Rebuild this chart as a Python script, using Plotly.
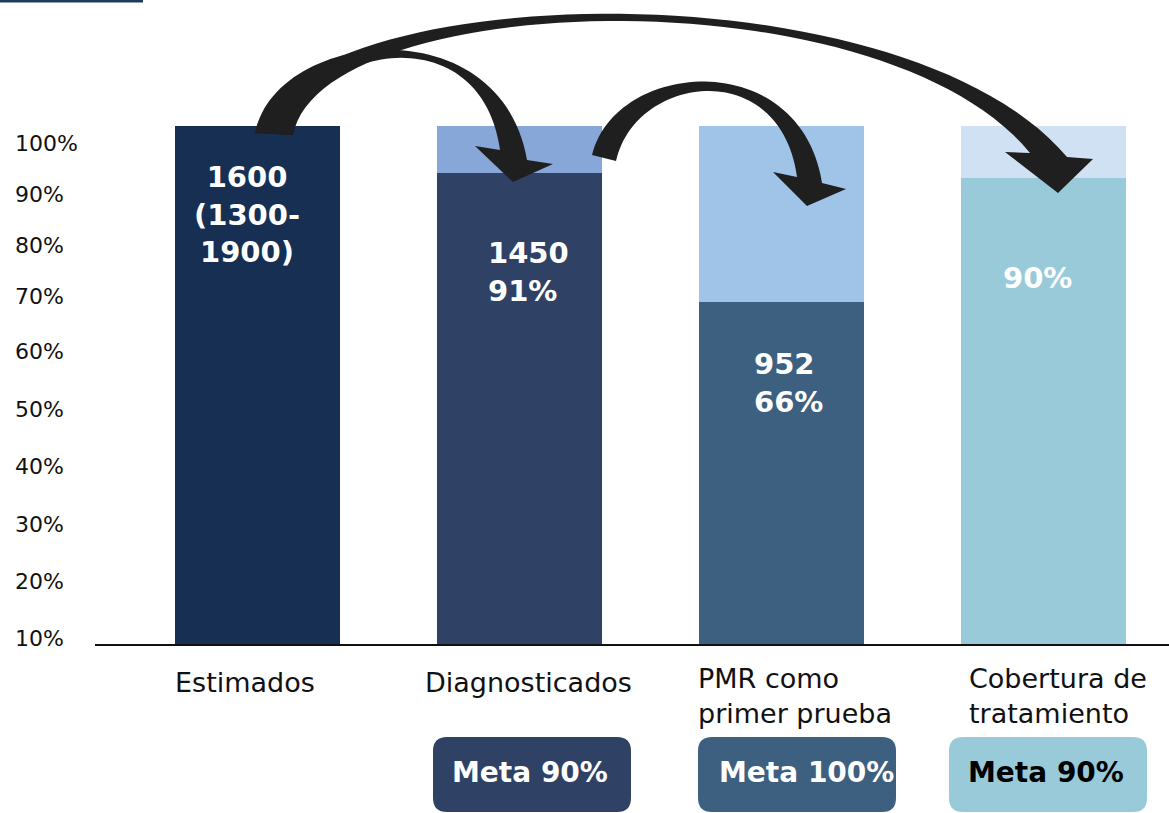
import numpy as np
import plotly.graph_objects as go

W, H = 1169, 813

# ---- data -------------------------------------------------------------
stages = ["Estimados", "Diagnosticados", "PMR como<br>primer prueba", "Cobertura de<br>tratamiento"]
stage_pct = [100, 91, 66, 90]          # achieved share at each stage (%)
stage_full = [100, 100, 100, 100]      # full scale drawn behind each stage (%)
estimated_people = 1600
estimated_low, estimated_high = 1300, 1900
stage_people = [1600, 1450, 952, None]
goal_pct = [None, 90, 100, 90]
y_tick_labels = ["10%", "20%", "30%", "40%", "50%", "60%", "70%", "80%", "90%", "100%"]

# ---- styling / layout constants -----------------------------------------
FONT = "DejaVu Sans"
full_colors = ["#162F52", "#86A7D8", "#A0C4E8", "#CFE1F3"]
pct_colors = ["#162F52", "#2F4265", "#3D6080", "#98CAD9"]
goal_box_colors = ["#2F4265", "#3D6080", "#98CAD9"]
goal_text_colors = ["white", "white", "black"]

y_range = [-32.37, 124.28]
y_tick_pos = [1.35, 12.3, 23.3, 34.5, 45.5, 56.5, 67.1, 77.1, 86.9, 96.7]
x_range = [-0.981, 3.477]
bar_width = 0.629

label_y = [83.0, 71.9, 50.5, 70.7]
label_xshift = [-10, 9, 7, -6]
cat_y = [-7.3, -7.3, -9.8, -9.8]
cat_xshift = [-12, 9, 13, 14]


def px(x):
    return x / W


def py(y):
    return 1 - y / H


def bezier(p0, p1, p2, p3, n=60):
    t = np.linspace(0, 1, n)[:, None]
    p0, p1, p2, p3 = map(np.array, (p0, p1, p2, p3))
    return ((1 - t) ** 3) * p0 + 3 * t * (1 - t) ** 2 * p1 + 3 * t ** 2 * (1 - t) * p2 + t ** 3 * p3


def arrow_path(outer, inner, head):
    """Curved block arrow: outer/inner edges as cubic Beziers plus a triangular head."""
    o = bezier(*outer)
    i = bezier(*inner)[::-1]
    pts = list(o) + [np.array(h) for h in head] + list(i)
    d = "M " + " L ".join(f"{px(p[0]):.5f},{py(p[1]):.5f}" for p in pts) + " Z"
    return d


def rounded_rect(x0, y0, x1, y1, r):
    X0, X1, Y0, Y1 = px(x0), px(x1), py(y0), py(y1)
    rx, ry = r / W, r / H
    return (f"M {X0+rx},{Y0} L {X1-rx},{Y0} Q {X1},{Y0} {X1},{Y0-ry} "
            f"L {X1},{Y1+ry} Q {X1},{Y1} {X1-rx},{Y1} L {X0+rx},{Y1} "
            f"Q {X0},{Y1} {X0},{Y1+ry} L {X0},{Y0-ry} Q {X0},{Y0} {X0+rx},{Y0} Z")


fig = go.Figure()

fig.add_trace(go.Bar(
    x=stages, y=stage_full, width=bar_width,
    marker=dict(color=full_colors, line=dict(width=0)),
    hoverinfo="skip", showlegend=False,
))
fig.add_trace(go.Bar(
    x=stages, y=stage_pct, width=bar_width,
    marker=dict(color=pct_colors, line=dict(width=0)),
    showlegend=False,
))

# value labels inside the bars
bar_labels = [
    f"{estimated_people}<br>({estimated_low}-<br>{estimated_high})",
    f"{stage_people[1]}<br>{stage_pct[1]}%",
    f"{stage_people[2]}<br>{stage_pct[2]}%",
    f"{stage_pct[3]}%",
]
annotations = []
for k, txt in enumerate(bar_labels):
    annotations.append(dict(
        x=stages[k], y=label_y[k], xref="x", yref="y", text=txt, showarrow=False,
        xanchor="center", yanchor="middle", align="center" if k in (0, 3) else "left",
        xshift=label_xshift[k],
        font=dict(family=FONT, size=29, color="white", weight="bold"),
    ))

# stage names under the axis
for k, name in enumerate(stages):
    annotations.append(dict(
        x=stages[k], y=cat_y[k], xref="x", yref="y", text=name, showarrow=False,
        xanchor="center", yanchor="middle", align="left", xshift=cat_xshift[k],
        font=dict(family=FONT, size=27, color="#111111"),
    ))

# goal boxes
goal_boxes = [(433, 737, 631, 812), (698, 737, 896, 812), (949, 737, 1147, 812)]
goal_text_x = [530, 806, 1046]
shapes = []
for j, k in enumerate([1, 2, 3]):
    x0, y0, x1, y1 = goal_boxes[j]
    shapes.append(dict(type="path", xref="paper", yref="paper",
                       path=rounded_rect(x0, y0, x1, y1, 14),
                       fillcolor=goal_box_colors[j], line=dict(width=0)))
    annotations.append(dict(
        x=px(goal_text_x[j]), y=py(772), xref="paper", yref="paper",
        text=f"Meta {goal_pct[k]}%", showarrow=False, xanchor="center", yanchor="middle",
        font=dict(family=FONT, size=28, color=goal_text_colors[j], weight="bold"),
    ))

# curved flow arrows between stages
ARROW = "#1f1f1f"
arrows = [
    # Estimados -> Cobertura de tratamiento (long arc)
    dict(outer=[(255, 133), (290, -20), (900, -40), (1067, 157)],
         inner=[(293, 135), (320, -10), (880, -30), (1030, 153)],
         head=[(1093, 159), (1058, 193), (1005, 152)]),
    # Estimados -> Diagnosticados
    dict(outer=[(255, 133), (275, 30), (500, 5), (527, 160)],
         inner=[(293, 135), (305, 50), (480, 10), (500, 150)],
         head=[(553, 164), (513, 182), (475, 146)]),
    # Diagnosticados -> PMR
    dict(outer=[(592, 155), (615, 60), (800, 45), (822, 183)],
         inner=[(616, 161), (635, 75), (780, 55), (797, 177)],
         head=[(846, 189), (807, 206), (773, 172)]),
]
for a in arrows:
    shapes.append(dict(type="path", xref="paper", yref="paper",
                       path=arrow_path(a["outer"], a["inner"], a["head"]),
                       fillcolor=ARROW, line=dict(width=0)))

# baseline and top accent rule
shapes.append(dict(type="line", xref="paper", yref="paper",
                   x0=px(95), x1=1, y0=py(645), y1=py(645),
                   line=dict(color="#111111", width=2)))
shapes.append(dict(type="line", xref="paper", yref="paper",
                   x0=0, x1=px(143), y0=py(1), y1=py(1),
                   line=dict(color="#1F3A5F", width=3)))

fig.update_layout(
    width=W, height=H, margin=dict(l=0, r=0, t=0, b=0),
    paper_bgcolor="white", plot_bgcolor="white",
    barmode="overlay", bargap=0,
    shapes=shapes, annotations=annotations,
    xaxis=dict(type="category", range=x_range, showticklabels=False, showgrid=False,
               zeroline=False, showline=False, ticks="", fixedrange=True),
    yaxis=dict(range=y_range, tickvals=y_tick_pos, ticktext=y_tick_labels,
               ticklabelposition="inside", ticklabelstandoff=12, ticks="",
               showgrid=False, zeroline=False, showline=False, fixedrange=True,
               tickfont=dict(family=FONT, size=22, color="#111111")),
    font=dict(family=FONT),
)

fig.write_html("out.html")
